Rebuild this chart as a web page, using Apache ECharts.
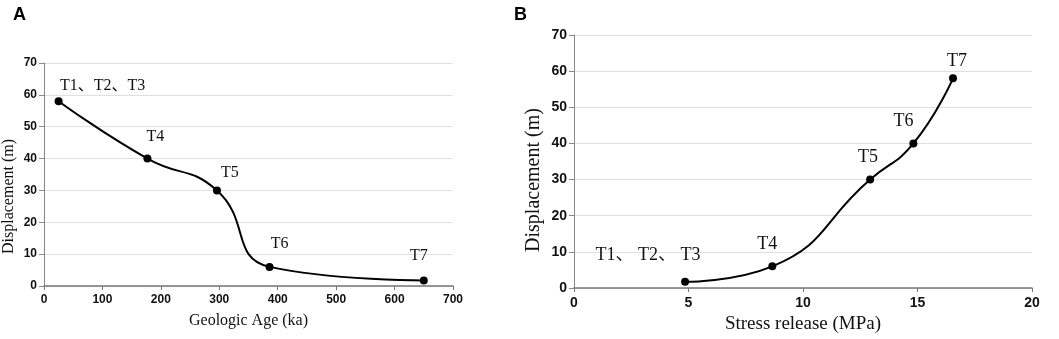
<!DOCTYPE html>
<html>
<head>
<meta charset="utf-8">
<script src="https://cdn.jsdelivr.net/npm/echarts@6/dist/echarts.min.js"></script>
<style>
  html, body { margin: 0; padding: 0; background: #fff; }
  #chart { width: 1059px; height: 339px; }
</style>
</head>
<body>
<div id="chart"></div>
<script>
// panel A: displacement vs geologic age
var ageNames = ['T1、T2、T3', 'T4', 'T5', 'T6', 'T7'];
var ageKa = [25, 177, 296, 386, 650];
var ageDisp = [58, 40, 30, 6, 1.7];

// panel B: displacement vs stress release
var stressNames = ['T1、 T2、 T3', 'T4', 'T5', 'T6', 'T7'];
var stressMPa = [4.85, 8.66, 12.93, 14.82, 16.55];
var stressDisp = [1.7, 6, 30, 40, 58];

// label nudges (style only)
var ageLabelOffset = [[44, 2], [8, -5], [13, -1], [10, -6], [-5, -8]];
var stressLabelOffset = [[-37, -9], [-5, -4], [-2, -4], [-10, -4], [4, 1]];

function buildData(xs, ys, names, offsets) {
  return xs.map(function (x, i) {
    return { name: names[i], value: [x, ys[i]], label: { offset: offsets[i] } };
  });
}

var serif = '"Liberation Serif", "Times New Roman", "Noto Sans CJK SC", serif';
var tickFont = '"Liberation Sans", Arial, sans-serif';

function makeY(gridIndex, fontSize, nameSize, gap, pad) {
  return {
    type: 'value', gridIndex: gridIndex, min: 0, max: 70, interval: 10,
    name: 'Displacement (m)', nameLocation: 'middle', nameGap: gap,
    nameTextStyle: { fontFamily: serif, fontSize: nameSize, color: '#111', padding: pad },
    axisLine: { show: true, lineStyle: { color: '#888', width: 1 } },
    axisTick: { show: true, length: 5, lineStyle: { color: '#888' } },
    axisLabel: { fontFamily: tickFont, fontWeight: 'bold', fontSize: fontSize, color: '#111', margin: 7 },
    splitLine: { show: true, lineStyle: { color: '#e0e0e0', width: 1 } }
  };
}

function makeX(gridIndex, max, interval, name, fontSize, nameSize, gap) {
  return {
    type: 'value', gridIndex: gridIndex, min: 0, max: max, interval: interval,
    name: name, nameLocation: 'middle', nameGap: gap,
    nameTextStyle: { fontFamily: serif, fontSize: nameSize, color: '#111' },
    axisLine: { show: true, onZero: false, lineStyle: { color: '#777', width: 1.5 } },
    axisTick: { show: true, length: 4, lineStyle: { color: '#777' } },
    axisLabel: { fontFamily: tickFont, fontWeight: 'bold', fontSize: fontSize, color: '#111', margin: 8 },
    splitLine: { show: false }
  };
}

function makeSeries(idx, data, labelSize) {
  return {
    type: 'line', xAxisIndex: idx, yAxisIndex: idx,
    data: data, smooth: 0.5,
    symbol: 'circle', symbolSize: 8,
    lineStyle: { color: '#000', width: 2 },
    itemStyle: { color: '#000' },
    label: {
      show: true, position: 'top', distance: 5,
      formatter: '{b}',
      fontFamily: serif, fontSize: labelSize, color: '#111'
    },
    animation: false
  };
}

var chart = echarts.init(document.getElementById('chart'));
chart.setOption({
  backgroundColor: '#fff',
  animation: false,
  title: [
    { text: 'A', left: 8, top: 1, textStyle: { fontFamily: tickFont, fontWeight: 'bold', fontSize: 18, color: '#000' } },
    { text: 'B', left: 509, top: 1, textStyle: { fontFamily: tickFont, fontWeight: 'bold', fontSize: 18, color: '#000' } }
  ],
  grid: [
    { left: 44, right: 606, top: 63, bottom: 53 },
    { left: 574, right: 27, top: 35, bottom: 51 }
  ],
  xAxis: [
    makeX(0, 700, 100, 'Geologic Age (ka)', 12, 16, 27),
    makeX(1, 20, 5, 'Stress release (MPa)', 14, 19, 25)
  ],
  yAxis: [
    makeY(0, 12, 16, 27, [0, 44, 0, 0]),
    makeY(1, 14, 20, 30, [0, 37, 0, 0])
  ],
  series: [
    makeSeries(0, buildData(ageKa, ageDisp, ageNames, ageLabelOffset), 16),
    makeSeries(1, buildData(stressMPa, stressDisp, stressNames, stressLabelOffset), 18)
  ]
});
</script>
</body>
</html>
